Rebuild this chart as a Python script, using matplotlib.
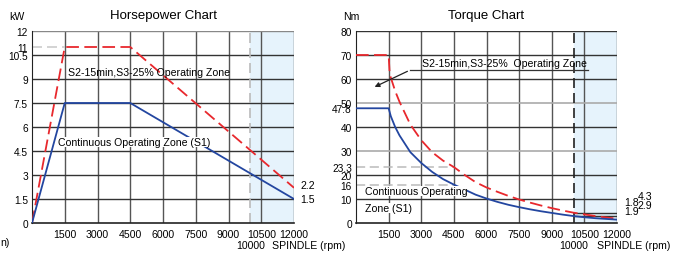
import matplotlib
matplotlib.use("Agg")
import matplotlib.pyplot as plt

plt.rcParams['font.family'] = ['Liberation Sans Narrow', 'Liberation Sans', 'DejaVu Sans']
plt.rcParams['font.size'] = 7.6

# ---- data ----
rpm_ticks = [1500, 3000, 4500, 6000, 7500, 9000, 10500, 12000]

# horsepower chart (kW)
hp_rpm = [0, 1500, 4500, 12000]
hp_s2 = [0, 11, 11, 2.2]
hp_s1 = [0, 7.5, 7.5, 1.5]
hp_yticks = [0, 1.5, 3, 4.5, 6, 7.5, 9, 10.5, 11, 12]
hp_ylabels = ['0', '1.5', '3', '4.5', '6', '7.5', '9', '10.5', '11', '12']

# torque chart (Nm)
tq_rpm_s2 = [0, 1500, 1550, 1800, 2000, 2500, 3000, 3500, 4000, 4500, 5000, 5500,
             6000, 6500, 7000, 7500, 8000, 8500, 9000, 9500, 10000, 10500, 11000,
             11500, 12000]
tq_s2 = [70, 70, 62, 55, 50.5, 41, 34.5, 29.5, 26, 23.3, 20, 17,
         14.8, 13, 11.3, 9.8, 8.5, 7.3, 6.2, 5.2, 4.3, 3.6, 2.9,
         2.3, 1.8]
tq_rpm_s1 = [0, 1500, 1600, 1800, 2000, 2500, 3000, 3500, 4000, 4500, 5000, 5500,
             6000, 6500, 7000, 7500, 8000, 8500, 9000, 9500, 10000, 10500, 11000,
             11500, 12000]
tq_s1 = [47.8, 47.8, 44.5, 40, 36.5, 29.5, 25, 21.3, 18.3, 16, 13.9, 11.8,
         10.2, 8.8, 7.6, 6.6, 5.7, 4.9, 4.2, 3.5, 2.9, 2.4, 2.0,
         1.7, 1.4]
tq_yticks = [0, 10, 16, 20, 23.3, 30, 40, 47.8, 50, 60, 70, 80]
tq_ylabels = ['0', '10', '16', '20', '23.3', '30', '40', '47.8', '50', '60', '70', '80']

RED = '#e8282d'
BLUE = '#2346a0'
BAND = '#e6f3fc'

fig = plt.figure(figsize=(6.83, 2.55), dpi=100)
ax1 = fig.add_axes([32/683, 1-224/255, 262/683, 192/255])
ax2 = fig.add_axes([356/683, 1-224/255, 261/683, 192/255])


def setup(ax, ymax, yticks, ylabels, spindle_x):
    ax.set_xlim(0, 12000)
    ax.set_ylim(0, ymax)
    ax.axvspan(10000, 12000, color=BAND, zorder=0)
    ax.set_xticks(rpm_ticks)
    ax.set_xticklabels([str(t) for t in rpm_ticks])
    ax.set_yticks(yticks)
    ax.set_yticklabels(ylabels)
    ax.tick_params(axis='x', length=0, pad=4)
    ax.tick_params(axis='y', length=0, pad=3, labelsize=7.3)
    for x in rpm_ticks:
        ax.axvline(x, color='#555555', lw=1, zorder=1)
    for s in ['top', 'right']:
        ax.spines[s].set_visible(False)
    ax.spines['left'].set_color('#222222')
    ax.spines['bottom'].set_color('#222222')
    ax.spines['bottom'].set_linewidth(1.2)
    ax.text(10000, -0.115, '10000', transform=ax.get_xaxis_transform(),
            ha='center', va='center')
    ax.text(spindle_x, -0.115, 'SPINDLE (rpm)', transform=ax.get_xaxis_transform(),
            ha='left', va='center', clip_on=False)


# ---- horsepower ----
setup(ax1, 12, hp_yticks, hp_ylabels, 10990)
ax1.axhline(12, color='#888888', lw=1, zorder=1)
for y in [1.5, 3, 4.5, 6, 7.5, 9, 10.5]:
    ax1.axhline(y, color='#333333', lw=1, zorder=1)
ax1.plot([0, 1500], [11, 11], color='#cccccc', lw=1.2, dashes=(6, 3), zorder=2)
ax1.axvline(10000, color='#bbbbbb', lw=1.2, dashes=(6, 3), zorder=2)
ax1.plot(hp_rpm, hp_s2, color=RED, lw=1.3, dashes=(7, 3), zorder=3)
ax1.plot(hp_rpm, hp_s1, color=BLUE, lw=1.3, zorder=3)
ax1.text(1650, 9.45, 'S2-15min,S3-25% Operating Zone', va='center', zorder=4)
ax1.text(1190, 5.05, 'Continuous Operating Zone (S1)', va='center', zorder=4,
         bbox=dict(facecolor='white', edgecolor='none', pad=0))
ax1.text(12275, 2.35, '2.2', va='center', clip_on=False)
ax1.text(12275, 1.5, '1.5', va='center', clip_on=False)
ax1.set_title('Horsepower Chart', fontsize=9.5, pad=9)
fig.text(17/683, 1-17/255, 'kW', ha='center', va='center')
fig.text(0, 1-243/255, 'n)', ha='left', va='center')

# ---- torque ----
setup(ax2, 80, tq_yticks, tq_ylabels, 11080)
for y in [10, 20, 40, 60, 70, 80]:
    ax2.axhline(y, color='#333333', lw=1, zorder=1)
for y in [30, 50]:
    ax2.axhline(y, color='#aaaaaa', lw=1.2, zorder=1)
for y in [16, 23.3]:
    ax2.plot([0, 4500], [y, y], color='#bbbbbb', lw=1.1, dashes=(6, 3), zorder=2)
ax2.axvline(10000, color='#222222', lw=1.2, dashes=(6, 3), zorder=2)
ax2.plot([10000, 12000], [4.3, 4.3], color='#333333', lw=1, zorder=2)
ax2.plot([10000, 12000], [2.9, 2.9], color='#333333', lw=1, zorder=2)
ax2.plot(tq_rpm_s2, tq_s2, color=RED, lw=1.3, dashes=(7, 3), zorder=3)
ax2.plot(tq_rpm_s1, tq_s1, color=BLUE, lw=1.3, zorder=3)
ax2.text(3030, 64.6, 'S2-15min,S3-25%  Operating Zone', va='bottom', zorder=4)
ax2.plot([2480, 10670], [63.7, 63.7], color='#333333', lw=0.9, zorder=4)
ax2.annotate('', xy=(740, 56.2), xytext=(2480, 63.7),
             arrowprops=dict(arrowstyle='-|>', color='#222222', lw=0.9,
                             mutation_scale=7), zorder=4)
ax2.text(410, 13.3, 'Continuous Operating', va='center', zorder=4,
         bbox=dict(facecolor='white', edgecolor='none', pad=0))
ax2.text(410, 6.2, 'Zone (S1)', va='center', zorder=4,
         bbox=dict(facecolor='white', edgecolor='none', pad=0))
ax2.text(12330, 8.9, '1.8', va='center', clip_on=False)
ax2.text(12950, 11.3, '4.3', va='center', clip_on=False)
ax2.text(12330, 4.8, '1.9', va='center', clip_on=False)
ax2.text(12950, 7.3, '2.9', va='center', clip_on=False)
ax2.set_title('Torque Chart', fontsize=9.5, pad=9)
fig.text(343/683, 1-17/255, 'Nm', ha='left', va='center')

fig.savefig('out.png', dpi=100)
